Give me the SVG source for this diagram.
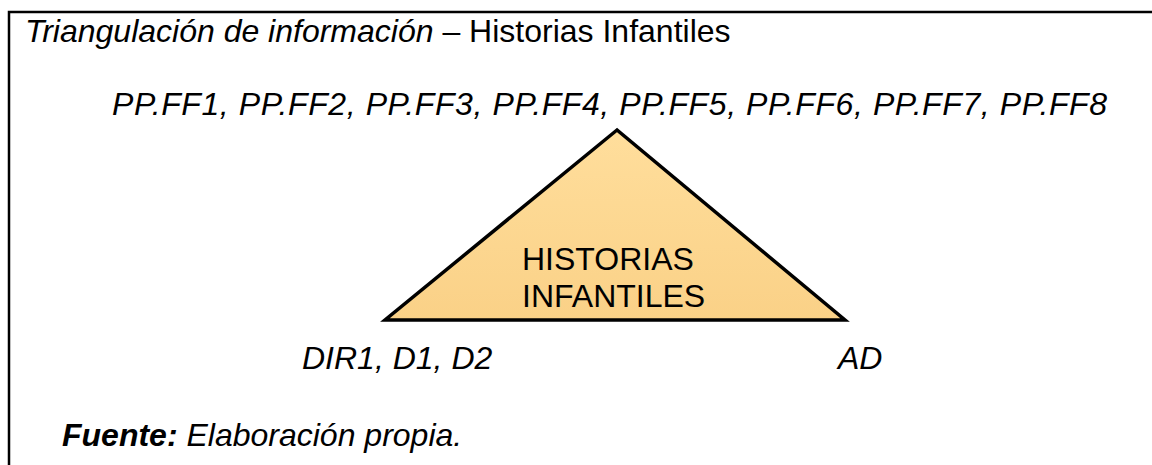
<svg xmlns="http://www.w3.org/2000/svg" width="1152" height="465" viewBox="0 0 1152 465">
  <style>
    text { font-family: "Liberation Sans", Arial, sans-serif; font-size: 32px; fill: #000; }
    .it { font-style: italic; }
    .b { font-weight: bold; }
    .frame { fill: none; stroke: #000; stroke-width: 2.5; }
    .tri { stroke: #000; stroke-width: 3.5; stroke-linejoin: miter; }
  </style>
  <defs>
    <linearGradient id="triFill" x1="0" y1="0" x2="0" y2="1">
      <stop offset="0" stop-color="#FFDE9C"/>
      <stop offset="1" stop-color="#FAD187"/>
    </linearGradient>
  </defs>
  <rect width="1152" height="465" fill="#fff"/>
  <g id="frame">
    <polyline class="frame" points="9,465 9,12 1152,12"/>
  </g>
  <g id="title">
    <text x="25" y="42"><tspan class="it">Triangulación de información</tspan> – Historias Infantiles</text>
  </g>
  <g id="node-top">
    <text class="it" x="112" y="115" textLength="995" lengthAdjust="spacing">PP.FF1, PP.FF2, PP.FF3, PP.FF4, PP.FF5, PP.FF6, PP.FF7, PP.FF8</text>
  </g>
  <g id="node-triangle">
    <polygon class="tri" points="617,130 385,320 845,320" fill="url(#triFill)"/>
    <text x="522" y="270">HISTORIAS</text>
    <text x="522" y="307">INFANTILES</text>
  </g>
  <g id="node-left">
    <text class="it" x="302" y="369">DIR1, D1, D2</text>
  </g>
  <g id="node-right">
    <text class="it" x="838" y="369">AD</text>
  </g>
  <g id="connectors"></g>
  <g id="source">
    <text class="it" x="62" y="446"><tspan class="b">Fuente:</tspan> Elaboración propia.</text>
  </g>
</svg>
